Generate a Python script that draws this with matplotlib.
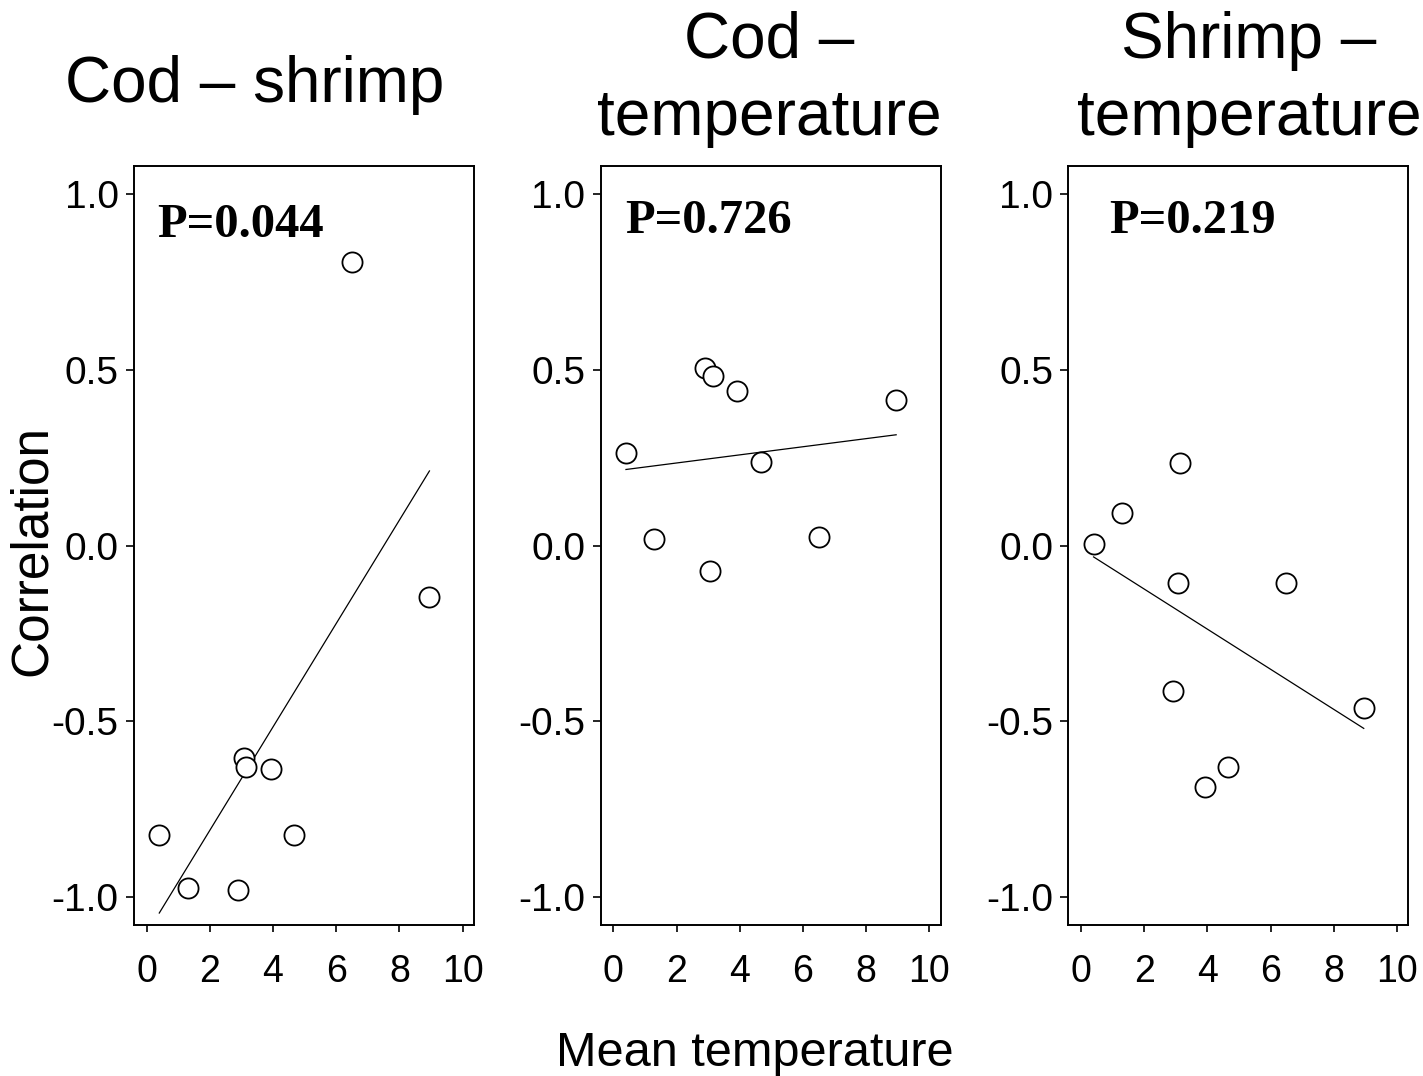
import numpy as np
import matplotlib.pyplot as plt

plt.rcParams['font.family'] = ['Liberation Sans', 'DejaVu Sans']
plt.rcParams['axes.unicode_minus'] = False

# mean temperature of each stock (x, same for all panels)
temp = [0.4, 1.3, 2.9, 3.07, 3.15, 3.92, 4.66, 6.5, 8.95]

# correlations
cod_shrimp = [-0.825, -0.975, -0.98, -0.605, -0.63, -0.635, -0.825, 0.807, -0.147]
cod_temp = [0.262, 0.019, 0.506, -0.072, 0.481, 0.439, 0.237, 0.023, 0.413]
shrimp_temp = [0.003, 0.093, -0.413, -0.107, 0.234, -0.687, -0.63, -0.107, -0.462]

series = [cod_shrimp, cod_temp, shrimp_temp]
p_values = ['P=0.044', 'P=0.726', 'P=0.219']
titles = [['Cod \u2013 shrimp'], ['Cod \u2013', 'temperature'], ['Shrimp \u2013', 'temperature']]
yticks = [-1.0, -0.5, 0.0, 0.5, 1.0]
xticks = [0, 2, 4, 6, 8, 10]

W, H = 1423, 1076
fig = plt.figure(figsize=(W / 100, H / 100), dpi=100)

lefts = [134, 600.7, 1068.3]
p_x = [0.068, 0.071, 0.12]
p_y = [0.906, 0.912, 0.912]
title_x = [255, 769, 1249]

x = np.array(temp)
for i, y in enumerate(series):
    ax = fig.add_axes([lefts[i] / W, 1 - 925 / H, 340 / W, 759 / H])
    y = np.array(y)
    slope, icpt = np.polyfit(x, y, 1)
    xl = np.array([x.min(), x.max()])
    ax.plot(xl, icpt + slope * xl, color='black', lw=0.9)
    ax.plot(x, y, 'o', ms=14.5, mfc='white', mec='black', mew=1.3)
    ax.set_xlim(-0.4, 10.36)
    ax.set_ylim(-1.08, 1.08)
    ax.set_yticks(yticks)
    ax.set_yticklabels(['%.1f' % v for v in yticks])
    ax.set_xticks(xticks)
    ax.tick_params(axis='y', direction='out', length=6, width=1.2, labelsize=28, pad=5)
    ax.tick_params(axis='x', direction='out', length=5, width=1.2, labelsize=27, pad=16)
    for s in ax.spines.values():
        s.set_linewidth(1.4)
    ax.text(p_x[i], p_y[i], p_values[i], transform=ax.transAxes, fontsize=35,
            fontweight='bold', family=['Liberation Serif', 'DejaVu Serif'], va='baseline')

    lines = titles[i]
    if len(lines) == 1:
        fig.text(title_x[i] / W, 1 - 102 / H, lines[0], ha='center', va='baseline', fontsize=46)
    else:
        fig.text(title_x[i] / W, 1 - 58 / H, lines[0], ha='center', va='baseline', fontsize=46)
        fig.text(title_x[i] / W, 1 - 135 / H, lines[1], ha='center', va='baseline', fontsize=46)

fig.text(32 / W, 1 - 550 / H, 'Correlation', rotation=90, ha='center', va='center', fontsize=37)
fig.text(755 / W, 1 - 1066 / H, 'Mean temperature', ha='center', va='baseline', fontsize=35)

fig.savefig('out.png', dpi=100)
